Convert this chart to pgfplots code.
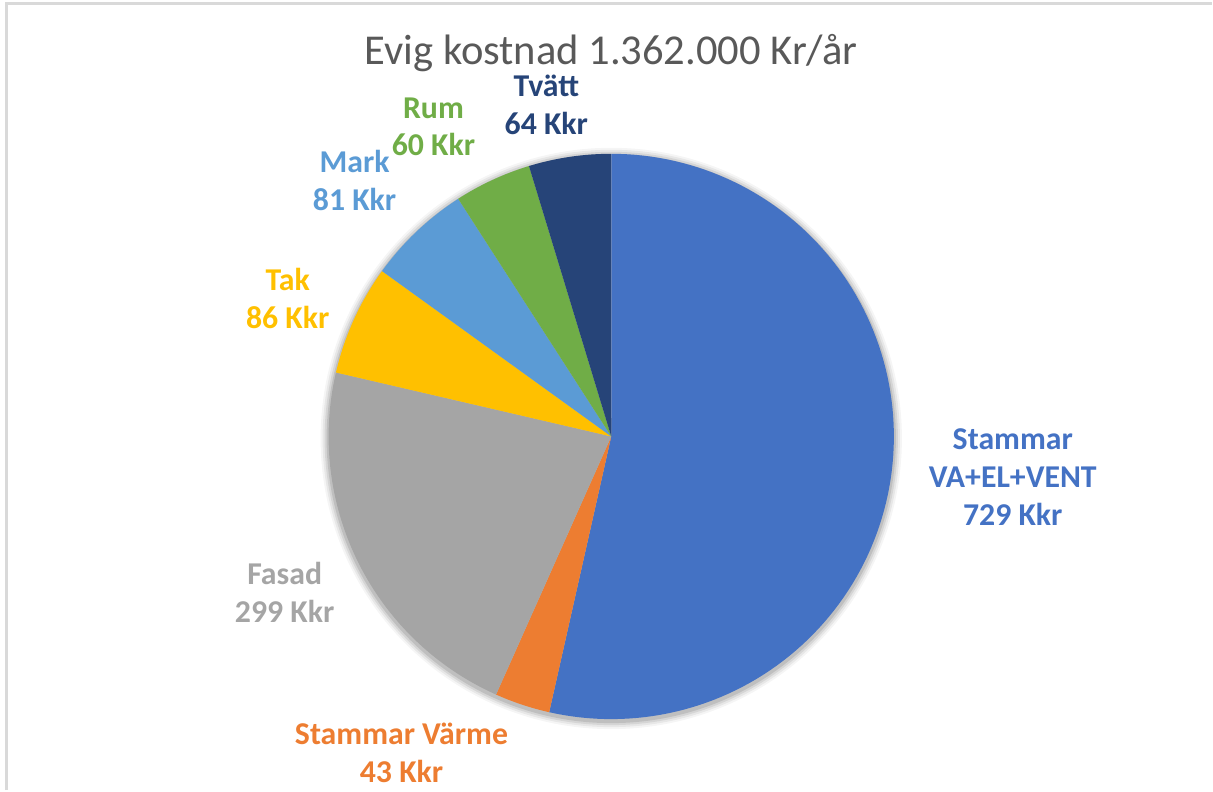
\documentclass[border=0pt]{standalone}
\usepackage{pgfplots}
\pgfplotsset{compat=1.18}
\usepackage{fontspec}
\setmainfont{Carlito}
\definecolor{cStam}{HTML}{4472C4}
\definecolor{cVarme}{HTML}{ED7D31}
\definecolor{cFasad}{HTML}{A5A5A5}
\definecolor{cTak}{HTML}{FFC000}
\definecolor{cMark}{HTML}{5B9BD5}
\definecolor{cRum}{HTML}{70AD47}
\definecolor{cTvatt}{HTML}{264478}
\definecolor{cTitle}{HTML}{595959}
\definecolor{cFrame}{HTML}{D9D9D9}
% slice values (Kkr), clockwise from 12 o'clock
\def\vA{729}\def\vB{43}\def\vC{299}\def\vD{86}\def\vE{81}\def\vF{60}\def\vG{64}
\pgfmathsetmacro\tot{\vA+\vB+\vC+\vD+\vE+\vF+\vG}
\pgfmathsetmacro\aO{90}
\pgfmathsetmacro\aA{\aO-360*(\vA/\tot)}
\pgfmathsetmacro\aB{\aA-360*(\vB/\tot)}
\pgfmathsetmacro\aC{\aB-360*(\vC/\tot)}
\pgfmathsetmacro\aD{\aC-360*(\vD/\tot)}
\pgfmathsetmacro\aE{\aD-360*(\vE/\tot)}
\pgfmathsetmacro\aF{\aE-360*(\vF/\tot)}
\pgfmathsetmacro\aG{\aF-360*(\vG/\tot)}
\newcommand\pieslice[3]{%
  \addplot[fill=#3, draw=none, domain=#1:#2, samples=120, variable=\t]
    ({612+283*cos(\t)},{354+283*sin(\t)}) -- (axis cs:612,354) -- cycle;}
\begin{document}
\begin{tikzpicture}
\begin{axis}[width=606.5pt, height=395.5pt, scale only axis, hide axis,
  xmin=0, xmax=1213, ymin=0, ymax=791, clip=false]
\path (axis cs:0,0) rectangle (axis cs:1213,791);
% frame
\draw[cFrame, line width=1.5pt] (axis cs:7,0) -- (axis cs:7,787) -- (axis cs:1213,787);
% soft shadow
\fill[black, opacity=0.04] (axis cs:612,352) circle[radius=291];
\fill[black, opacity=0.06] (axis cs:612,352) circle[radius=289];
\fill[black, opacity=0.08] (axis cs:612,352) circle[radius=287];
\fill[black, opacity=0.10] (axis cs:612,352) circle[radius=285];
\pieslice{\aA}{\aO}{cStam}
\pieslice{\aB}{\aA}{cVarme}
\pieslice{\aC}{\aB}{cFasad}
\pieslice{\aD}{\aC}{cTak}
\pieslice{\aE}{\aD}{cMark}
\pieslice{\aF}{\aE}{cRum}
\pieslice{\aG}{\aF}{cTvatt}
% title
\node[text=cTitle, inner sep=0pt, font=\fontsize{21.3}{25}\selectfont] at (axis cs:612,738) {Evig kostnad 1.362.000 Kr/år};
% labels
\begin{scope}[every node/.style={align=center, inner sep=0pt, font=\fontsize{15.9}{19}\selectfont\bfseries}]
\node[text=cStam] at (axis cs:1014,313) {Stammar\\VA+EL+VENT\\729 Kkr};
\node[text=cVarme] at (axis cs:402,37) {Stammar Värme\\43 Kkr};
\node[text=cFasad] at (axis cs:285,198) {Fasad\\299 Kkr};
\node[text=cTak] at (axis cs:288,492) {Tak\\86 Kkr};
\node[text=cMark] at (axis cs:355,610) {Mark\\81 Kkr};
\node[text=cRum] at (axis cs:434,664) {Rum\\60 Kkr};
\node[text=cTvatt] at (axis cs:547,686) {Tvätt\\64 Kkr};
\end{scope}
\end{axis}
\end{tikzpicture}
\end{document}
